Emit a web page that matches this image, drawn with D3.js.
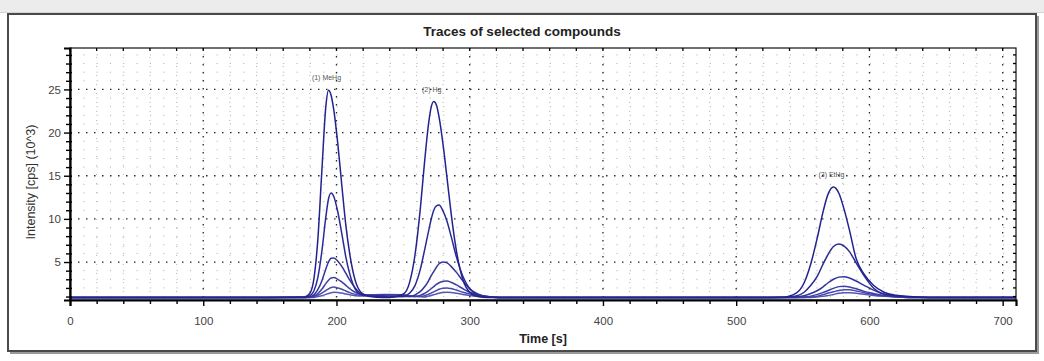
<!DOCTYPE html>
<html>
<head>
<meta charset="utf-8">
<script src="https://cdn.jsdelivr.net/npm/d3@7"></script>
<style>
  html, body { margin: 0; padding: 0; background: #ffffff; }
  svg { display: block; }
</style>
</head>
<body>
<svg id="chart" width="1044" height="361"></svg>
<script>
// ---------------- DATA ----------------
const titleText = "Traces of selected compounds";
const xLabelText = "Time [s]";
const yLabelText = "Intensity [cps] (10^3)";

const xTicks = [0, 100, 200, 300, 400, 500, 600, 700];
const yTicks = [5, 10, 15, 20, 25];

const times = [0,100,150,176,180,183,186,189,192,194,196,198,201,204,207,210,214,219,225,235,
  240,250,255,259,263,266,269,271,273,275,277,280,283,286,290,295,300,306,313,322,335,
  400,450,500,
  520,535,545,551,556,561,565,569,573,577,581,585,590,596,603,611,620,630,645,680,710];

const traceA = [0.9,0.9,0.9,0.94,1.38,3.0,7.6,15.5,23.0,24.9,24.3,22.6,18.7,13.9,9.3,5.9,2.9,1.4,1.0,0.9,
  0.9,1.26,2.7,5.9,11.3,16.4,20.9,22.9,23.6,23.2,21.8,18.6,14.7,10.7,6.3,2.9,1.5,1.0,0.9,0.9,0.9,
  0.9,0.9,0.9,
  0.9,0.93,1.4,2.6,4.8,7.9,10.7,12.9,13.7,13.0,11.1,8.7,5.4,3.6,2.3,1.5,1.15,1.0,0.9,0.9,0.9];
const traceB = [0.9,0.9,0.9,0.91,1.08,1.64,3.2,6.2,10.2,12.3,13.0,12.6,10.8,8.3,5.6,3.6,1.9,1.2,1.05,1.0,
  0.95,1.0,1.4,2.3,4.2,6.3,8.5,9.9,11.0,11.5,11.6,10.9,9.7,8.0,5.6,3.3,1.9,1.2,0.95,0.9,0.9,
  0.9,0.9,0.9,
  0.9,0.91,1.07,1.5,2.3,3.4,4.7,5.9,6.8,7.1,6.85,6.2,4.9,3.4,2.0,1.25,1.05,0.95,0.9,0.9,0.9];
const traceC = [0.9,0.9,0.9,0.9,0.98,1.2,1.8,2.8,4.2,5.0,5.45,5.48,5.1,4.5,3.7,2.9,2.0,1.3,1.1,1.1,
  1.05,1.0,1.0,1.2,1.6,2.1,2.8,3.4,3.9,4.4,4.8,5.0,4.9,4.5,3.8,2.8,1.9,1.3,1.0,0.9,0.9,
  0.9,0.9,0.9,
  0.9,0.9,0.95,1.1,1.35,1.7,2.1,2.6,3.0,3.25,3.3,3.15,2.8,2.3,1.75,1.3,1.05,0.95,0.9,0.9,0.9];
const traceD = [0.9,0.9,0.9,0.9,0.95,1.05,1.35,1.85,2.5,2.9,3.15,3.2,3.0,2.7,2.3,1.9,1.5,1.2,1.15,1.2,
  1.2,1.1,1.0,1.0,1.15,1.35,1.65,1.9,2.15,2.4,2.6,2.78,2.8,2.65,2.35,1.9,1.5,1.2,1.0,0.9,0.9,
  0.9,0.9,0.9,
  0.9,0.9,0.9,0.95,1.05,1.25,1.45,1.7,1.95,2.15,2.2,2.1,1.9,1.6,1.35,1.1,1.0,0.9,0.9,0.9,0.9];
const traceE = [0.9,0.9,0.9,0.9,0.9,1.0,1.15,1.4,1.7,1.9,2.05,2.1,2.0,1.85,1.65,1.45,1.25,1.15,1.2,1.25,
  1.25,1.2,1.1,1.0,1.0,1.1,1.25,1.4,1.55,1.7,1.85,1.97,2.0,1.92,1.75,1.5,1.3,1.1,1.0,0.9,0.9,
  0.9,0.9,0.9,
  0.9,0.9,0.9,0.9,0.95,1.05,1.2,1.4,1.55,1.7,1.8,1.78,1.65,1.45,1.25,1.08,0.95,0.9,0.9,0.9,0.9];
const traceF = [0.9,0.9,0.9,0.9,0.9,0.9,1.0,1.1,1.25,1.35,1.45,1.5,1.48,1.4,1.3,1.2,1.1,1.05,1.1,1.2,
  1.2,1.15,1.1,1.05,1.0,0.95,1.05,1.12,1.2,1.3,1.38,1.46,1.5,1.47,1.38,1.25,1.12,1.02,0.95,0.9,0.9,
  0.9,0.9,0.9,
  0.9,0.9,0.9,0.9,0.9,0.95,1.02,1.12,1.25,1.37,1.44,1.45,1.38,1.27,1.12,1.02,0.95,0.9,0.9,0.9,0.9];

const peakLabels = ["(1) MeHg", "(2) Hg", "(3) EtHg"];
const peakTimes = [194, 273, 573];
const peakValues = [24.9, 23.6, 13.7];

// ---------------- STYLE / LAYOUT ----------------
const W = 1044, H = 361;
const margin = { left: 70, right: 28, top: 48, bottom: 61 };
const plotW = W - margin.left - margin.right;
const plotH = H - margin.top - margin.bottom;
const traceColors = ["#222290", "#2a2a96", "#33339c", "#3e3ea4", "#4a4aac", "#5656b4"];
const FONT = "'Liberation Sans Narrow', 'Liberation Sans', Arial, sans-serif";

const svg = d3.select("#chart");

// page background pieces
svg.append("rect").attr("x", 0).attr("y", 0).attr("width", W).attr("height", 13).attr("fill", "#ececec");
svg.append("line").attr("x1", 0).attr("x2", W).attr("y1", 12.5).attr("y2", 12.5).attr("stroke", "#d4d4d4");
// outer frame with shadow
svg.append("rect").attr("x", 10).attr("y", 16).attr("width", 1029).attr("height", 338).attr("fill", "#9a9a9a");
svg.append("rect").attr("x", 8).attr("y", 14).attr("width", 1028).attr("height", 337)
  .attr("fill", "#ffffff").attr("stroke", "#4a4a4a").attr("stroke-width", 2);

const x = d3.scaleLinear().domain([0, 710]).range([margin.left, margin.left + plotW]);
const y = d3.scaleLinear().domain([0.6, 29.8]).range([margin.top + plotH, margin.top]);

const g = svg.append("g");

// minor dot lattice
const yMinor = d3.range(1, 30, 1);
const xMinor = d3.range(0, 711, 20);
g.append("g").selectAll("line").data(yMinor.filter(v => v % 5 !== 0)).join("line")
  .attr("x1", x(0)).attr("x2", x(710))
  .attr("y1", d => y(d)).attr("y2", d => y(d))
  .attr("stroke", "#a8a8a8").attr("stroke-width", 1)
  .attr("stroke-dasharray", "1,12.33");
g.append("g").selectAll("line").data(xMinor.filter(v => v % 100 !== 0)).join("line")
  .attr("x1", d => x(d)).attr("x2", d => x(d))
  .attr("y1", y(29.8)).attr("y2", y(0.6))
  .attr("stroke", "#b4b4b4").attr("stroke-width", 1)
  .attr("stroke-dasharray", "1,8");

// major dotted grid
g.append("g").selectAll("line").data(yTicks).join("line")
  .attr("x1", x(0)).attr("x2", x(710))
  .attr("y1", d => y(d)).attr("y2", d => y(d))
  .attr("stroke", "#2a2a2a").attr("stroke-width", 1.3)
  .attr("stroke-dasharray", "1.5,6.5");
g.append("g").selectAll("line").data(xTicks.filter(v => v > 0)).join("line")
  .attr("x1", d => x(d)).attr("x2", d => x(d))
  .attr("y1", y(29.8)).attr("y2", y(0.6))
  .attr("stroke", "#2a2a2a").attr("stroke-width", 1.3)
  .attr("stroke-dasharray", "1.5,6.5");

// traces
const traces = [traceF, traceE, traceD, traceC, traceB, traceA];
const line = d3.line().x((d, i) => x(times[i])).y(d => y(d)).curve(d3.curveMonotoneX);
g.append("g").selectAll("path").data(traces).join("path")
  .attr("d", d => line(d))
  .attr("fill", "none")
  .attr("stroke", (d, i) => traceColors[traceColors.length - 1 - i])
  .attr("stroke-width", 1.5)
  .attr("stroke-linejoin", "round");

// plot border
g.append("rect").attr("x", x(0)).attr("y", y(29.8)).attr("width", x(710) - x(0)).attr("height", y(0.6) - y(29.8))
  .attr("fill", "none").attr("stroke", "#111").attr("stroke-width", 1.2);

// axes
const xAxis = d3.axisBottom(x).tickValues(xTicks).tickSize(6).tickFormat(d3.format("d"));
const xAxisMinor = d3.axisBottom(x).tickValues(xMinor.filter(v => v % 100 !== 0)).tickSize(4).tickFormat("");
const yAxis = d3.axisLeft(y).tickValues(yTicks).tickSize(6).tickFormat(d3.format("d"));
const yAxisMinor = d3.axisLeft(y).tickValues(yMinor.filter(v => v % 5 !== 0)).tickSize(4).tickFormat("");

function styleAxis(sel) {
  sel.select(".domain").attr("stroke", "#000").attr("stroke-width", 2.2);
  sel.selectAll(".tick line").attr("stroke", "#000").attr("stroke-width", 1.4);
  sel.selectAll("text").attr("font-family", FONT).attr("font-size", 11.5).attr("fill", "#444");
}

const gx = svg.append("g").attr("transform", `translate(0,${y(0.6)})`).call(xAxis).call(styleAxis);
gx.selectAll("text").attr("dy", "1.35em");
svg.append("g").attr("transform", `translate(0,${y(0.6)})`).call(xAxisMinor).call(styleAxis)
  .select(".domain").remove();
const gy = svg.append("g").attr("transform", `translate(${x(0)},0)`).call(yAxis).call(styleAxis);
gy.selectAll(".tick line").attr("x2", -6).attr("x1", 2);
gy.selectAll("text").attr("x", -9);
const gym = svg.append("g").attr("transform", `translate(${x(0)},0)`).call(yAxisMinor).call(styleAxis);
gym.select(".domain").remove();
gym.selectAll(".tick line").attr("x2", -4).attr("x1", 2);

// mirrored inner ticks on top and right
svg.append("g").selectAll("line").data(xMinor).join("line")
  .attr("x1", d => x(d)).attr("x2", d => x(d))
  .attr("y1", y(29.8)).attr("y2", y(29.8) + 3)
  .attr("stroke", "#000").attr("stroke-width", 1.3);
svg.append("g").selectAll("line").data(yMinor).join("line")
  .attr("x1", x(710)).attr("x2", x(710) - 3)
  .attr("y1", d => y(d)).attr("y2", d => y(d))
  .attr("stroke", "#000").attr("stroke-width", 1.3);

// peak annotations
svg.append("g").selectAll("text").data(peakLabels).join("text")
  .attr("x", (d, i) => x(peakTimes[i]) - 2)
  .attr("y", (d, i) => y(peakValues[i]) - 10)
  .attr("text-anchor", "middle")
  .attr("font-family", FONT).attr("font-size", 7).attr("fill", "#555")
  .text(d => d);

// title and axis labels
svg.append("text").attr("x", 522).attr("y", 36).attr("text-anchor", "middle")
  .attr("font-family", FONT).attr("font-size", 13.5).attr("font-weight", "bold").attr("fill", "#222")
  .text(titleText);
svg.append("text").attr("x", (x(0) + x(710)) / 2).attr("y", 343).attr("text-anchor", "middle")
  .attr("font-family", FONT).attr("font-size", 12.5).attr("font-weight", "bold").attr("fill", "#222")
  .text(xLabelText);
svg.append("text").attr("transform", `translate(35,${(y(0.6) + y(29.8)) / 2 + 8}) rotate(-90)`)
  .attr("text-anchor", "middle")
  .attr("font-family", FONT).attr("font-size", 12.5).attr("fill", "#333")
  .text(yLabelText);
</script>
</body>
</html>
